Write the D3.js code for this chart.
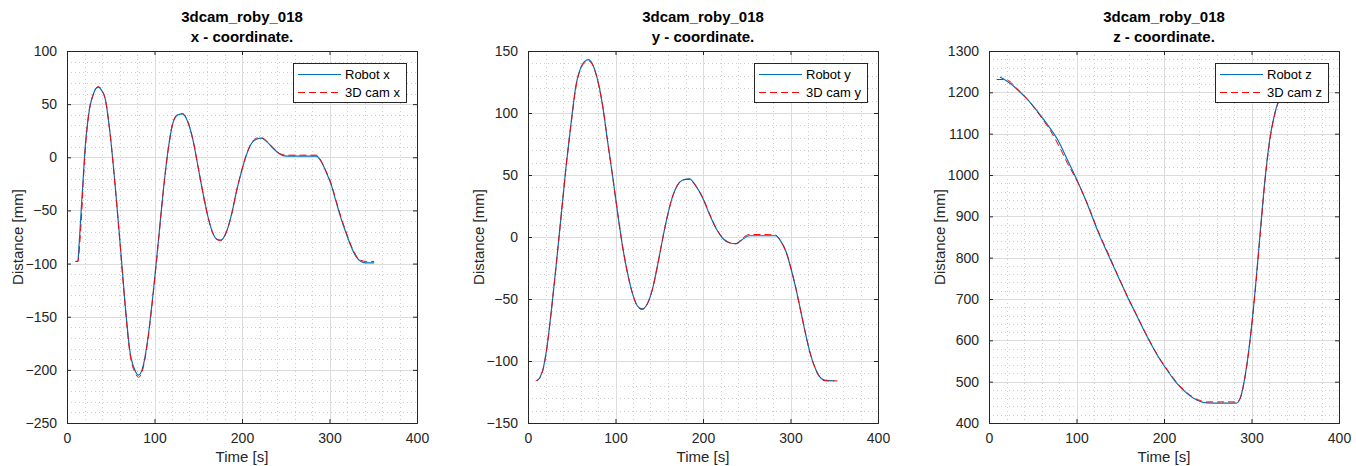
<!DOCTYPE html>
<html>
<head>
<meta charset="utf-8">
<script src="https://cdn.jsdelivr.net/npm/d3@7"></script>
<style>
  body { margin: 0; background: #fff; }
  text { font-family: "Liberation Sans", Arial, sans-serif; fill: #262626; }
  .title { font-weight: bold; font-size: 15px; fill: #000; }
  .tick text { font-size: 14px; }
  .axislabel { font-size: 15px; }
  .legend { font-size: 13px; fill: #000; }
</style>
</head>
<body>
<svg id="fig" width="1356" height="466"></svg>
<script>
// time axis
const timeTicks = [0, 100, 200, 300, 400];

// x - coordinate [t, mm]
const robotX = [[10,-98],[12.5,-98],[13.3,-89],[15.2,-64],[17,-39],[19,-13.5],[21,11.5],[22.8,27],[25.8,46],[30.4,60],[33,64.5],[36,66],[39.5,63],[43.7,55],[49,24],[55,-26],[60.8,-82],[66.5,-139],[72,-183],[78,-201],[81.7,-205],[87.4,-195],[93,-167],[98.7,-126],[104.4,-79],[110,-32],[115.8,8.5],[121.5,33.5],[127,40],[132,40.8],[138.6,32],[144.3,15],[150,-10],[155.7,-35],[161.4,-57],[167,-72],[171,-77],[175.5,-78],[182.3,-70],[188,-54],[193.7,-32],[199.4,-13.5],[205,2],[210.8,13],[216.5,17],[222,18],[228,15],[235.5,8.5],[243,3],[250.7,1],[268,1],[285,1],[290.5,-4],[296,-13.5],[302,-26],[307.6,-42],[313,-57],[319,-71.5],[324.7,-84],[330,-93],[336,-98],[342,-99.4],[351,-99.4]];
const camX = [[9.5,-98],[12.5,-98],[13.6,-91],[15.5,-70],[17,-50],[18.6,-22],[21,9],[22.8,26],[25.8,46],[30.4,60],[33,65],[36,66.5],[39.5,63.5],[43.7,55],[49,24],[55,-27],[60.8,-83],[66.5,-140],[72,-185],[78,-203],[81.7,-207],[87.4,-197],[93,-168],[98.7,-127],[104.4,-80],[110,-32],[115.8,8],[121.5,34],[127,40.5],[132,41],[138.6,32.5],[144.3,15],[150,-10],[155.7,-35],[161.4,-57],[167,-72],[171,-77],[175.5,-78.5],[182.3,-70],[188,-54],[193.7,-32],[199.4,-13],[205,2.5],[210.8,13.5],[216.5,18],[222,18.5],[228,15.5],[235.5,9],[243,3.5],[250.7,2],[268,2],[285,2],[290.5,-3.5],[296,-13],[302,-25],[307.6,-41],[313,-56],[319,-70.5],[324.7,-83],[330,-92],[336,-97],[342,-98],[351,-98]];

// y - coordinate [t, mm]
const robotY = [[10,-116],[13.3,-113.7],[17,-107],[21,-92],[26.6,-60],[32.3,-22],[38,18],[43.7,58],[49.4,93],[55,123],[60.8,137.6],[66.5,142.5],[69,143],[74,139],[80,125.5],[85.5,105],[91,77],[97,47.6],[102.7,18],[108.4,-9],[114,-30],[119.8,-46.5],[125.5,-56],[130.4,-58],[137,-53],[142.6,-41],[148.3,-22],[154,-1],[159.7,18],[165.4,33],[171,42],[176.8,46],[184.4,46.8],[192,41],[199.6,31.5],[207,19],[214.8,7],[222.4,-1],[230,-4.6],[237.6,-5.4],[245,-2],[253,1],[268,1],[283,1],[289,-3.5],[294.7,-11.5],[300.4,-25],[306,-41],[311.8,-60],[317.5,-79],[323,-95],[329,-107],[334.6,-113.7],[340,-115.6],[350,-116]];
const camY = [[8.7,-116],[13.3,-114],[17,-107.5],[21,-92.5],[26.6,-60],[32.3,-22],[38,18],[43.7,58],[49.4,92],[55,122],[60.8,136.5],[66.5,141.5],[69,142],[74,138.5],[80,125],[85.5,105],[91,77],[97,47.6],[102.7,18],[108.4,-9],[114,-30],[119.8,-46.5],[125.5,-56.5],[130.4,-58.5],[137,-53],[142.6,-41],[148.3,-22],[154,-1],[159.7,18],[165.4,33],[171,42],[176.8,46],[184.4,46.5],[192,41],[199.6,32],[207,19.5],[214.8,7.5],[222.4,-0.5],[230,-4.5],[237.6,-5.5],[245,-1],[253,2],[268,2],[283,1.5],[289,-3.5],[294.7,-11.5],[300.4,-25],[306,-41],[311.8,-60],[317.5,-79],[323,-95],[329,-107],[334.6,-114],[340,-116],[353.6,-116]];

// z - coordinate [t, mm]
const robotZ = [[12.5,1237],[22,1225],[33.3,1205],[44.7,1181],[56,1152],[67.4,1120],[78.8,1084],[90,1035],[101.5,983],[112.9,927],[124,866],[135.6,810],[147,757],[158.3,705],[169.7,656],[181,608],[192.4,564],[203.8,527],[215,495],[226.5,471],[237.9,455],[249,448.5],[265,448],[282.6,448],[287,459],[292.8,515],[298.5,604],[304,717],[310,862],[315.5,991],[321,1088],[327,1152],[332.6,1189],[338,1215],[345,1235]];
const camZ = [[8.7,1231],[18,1231],[24,1226],[29.5,1214],[41,1190],[52,1162],[63.6,1128],[70,1108],[78.8,1075],[90,1027],[101.5,982],[112.9,928],[124,868],[135.6,813],[147,758],[158.3,706],[169.7,657],[181,609],[192.4,565],[203.8,529],[215,497],[226.5,473],[237.9,457],[249,451],[265,451],[282.6,451],[287,460],[292.8,514],[298.5,602],[304,714],[310,858],[315.5,988],[321,1085],[327,1150],[332.6,1187],[338,1213],[345,1233]];

const panels = [
    {left: 67, axis: "x", yTicks: [-250,-200,-150,-100,-50,0,50,100], minor: 10, robot: robotX, cam: camX},
    {left: 528, axis: "y", yTicks: [-150,-100,-50,0,50,100,150], minor: 10, robot: robotY, cam: camY},
    {left: 989, axis: "z", yTicks: [400,500,600,700,800,900,1000,1100,1200,1300], minor: 20, robot: robotZ, cam: camZ}
];

const plotTop = 51, width = 350, height = 372;
let svg = d3.select("#fig");

panels.forEach(function(p, i) {
    let g = svg.append("g").attr("transform", "translate(" + p.left + "," + plotTop + ")");
    let yMin = p.yTicks[0], yMax = p.yTicks[p.yTicks.length - 1];
    let xScale = d3.scaleLinear().domain([0, 400]).range([0, width]);
    let yScale = d3.scaleLinear().domain([yMin, yMax]).range([height, 0]);

    // minor grid
    let xMinor = d3.range(0, 401, 20).filter(d => d % 100 !== 0);
    let yMinor = d3.range(yMin, yMax + 1, p.minor).filter(d => (d - yMin) % (p.yTicks[1] - yMin) !== 0);
    g.selectAll(".mx").data(xMinor).join("line").attr("class", "mx")
        .attr("x1", d => Math.round(xScale(d)) + 0.5).attr("x2", d => Math.round(xScale(d)) + 0.5)
        .attr("y1", 0).attr("y2", height)
        .attr("stroke", "#cdcdcd").attr("stroke-dasharray", "1,3");
    g.selectAll(".my").data(yMinor).join("line").attr("class", "my")
        .attr("y1", d => Math.round(yScale(d)) + 0.5).attr("y2", d => Math.round(yScale(d)) + 0.5)
        .attr("x1", 0).attr("x2", width)
        .attr("stroke", "#cdcdcd").attr("stroke-dasharray", "1,3");

    // major grid
    g.selectAll(".gx").data(timeTicks).join("line").attr("class", "gx")
        .attr("x1", d => Math.round(xScale(d)) + 0.5).attr("x2", d => Math.round(xScale(d)) + 0.5)
        .attr("y1", 0).attr("y2", height).attr("stroke", "#dcdcdc");
    g.selectAll(".gy").data(p.yTicks).join("line").attr("class", "gy")
        .attr("y1", d => Math.round(yScale(d)) + 0.5).attr("y2", d => Math.round(yScale(d)) + 0.5)
        .attr("x1", 0).attr("x2", width).attr("stroke", "#dcdcdc");

    // lines
    let lineGenerator = d3.line().curve(d3.curveMonotoneX)
        .x(d => xScale(d[0]))
        .y(d => yScale(d[1]));
    g.append("path").attr("d", lineGenerator(p.robot))
        .attr("fill", "none").attr("stroke", "#0072BD").attr("stroke-width", 1.2);
    g.append("path").attr("d", lineGenerator(p.cam))
        .attr("fill", "none").attr("stroke", "#FF0000").attr("stroke-width", 1)
        .attr("stroke-dasharray", "7,4");

    // axes, ticks pointing inward on all sides
    let xAxis = d3.axisBottom(xScale).tickValues(timeTicks).tickSize(-4).tickPadding(10);
    let yAxis = d3.axisLeft(yScale).tickValues(p.yTicks).tickSize(-4).tickPadding(10)
        .tickFormat(d3.format("d"));
    g.append("g").attr("transform", "translate(0," + height + ")").call(xAxis);
    g.append("g").call(yAxis);
    g.append("g").call(d3.axisTop(xScale).tickValues(timeTicks).tickSize(-4).tickFormat(""));
    g.append("g").attr("transform", "translate(" + width + ",0)")
        .call(d3.axisRight(yScale).tickValues(p.yTicks).tickSize(-4).tickFormat(""));
    g.selectAll(".domain").attr("stroke", "#262626");
    g.selectAll(".tick line").attr("stroke", "#262626");
    g.selectAll(".tick text").attr("fill", "#262626");

    // titles
    g.append("text").attr("class", "title").attr("x", width / 2).attr("y", -29)
        .attr("text-anchor", "middle").text("3dcam_roby_018");
    g.append("text").attr("class", "title").attr("x", width / 2).attr("y", -9)
        .attr("text-anchor", "middle").text(p.axis + " - coordinate.");

    g.append("text").attr("class", "axislabel").attr("x", width / 2).attr("y", height + 39)
        .attr("text-anchor", "middle").text("Time [s]");
    g.append("text").attr("class", "axislabel")
        .attr("transform", "translate(-44," + (height / 2) + ") rotate(-90)")
        .attr("text-anchor", "middle").text("Distance [mm]");

    // legend
    let lg = g.append("g").attr("transform", "translate(" + (width - 124) + ",12)");
    lg.append("rect").attr("x", 0.5).attr("y", 0.5).attr("width", 113).attr("height", 39)
        .attr("fill", "#fff").attr("stroke", "#262626");
    lg.append("line").attr("x1", 5).attr("x2", 48).attr("y1", 11.5).attr("y2", 11.5)
        .attr("stroke", "#0072BD").attr("stroke-width", 1.2);
    lg.append("text").attr("class", "legend").attr("x", 52).attr("y", 16).text("Robot " + p.axis);
    lg.append("line").attr("x1", 5).attr("x2", 48).attr("y1", 29.5).attr("y2", 29.5)
        .attr("stroke", "#FF0000").attr("stroke-dasharray", "7,4");
    lg.append("text").attr("class", "legend").attr("x", 52).attr("y", 34).text("3D cam " + p.axis);
});
</script>
</body>
</html>
